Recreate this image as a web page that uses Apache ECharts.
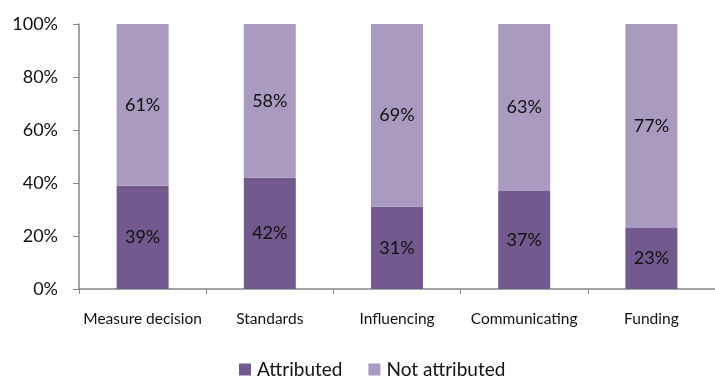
<!DOCTYPE html>
<html>
<head>
<meta charset="utf-8">
<script src="https://cdn.jsdelivr.net/npm/echarts@6/dist/echarts.min.js"></script>
<style>
  html, body { margin: 0; padding: 0; background: #ffffff; }
  #chart { width: 715px; height: 379px; }
</style>
</head>
<body>
<div id="chart"></div>
<script>
const categories = ['Measure decision', 'Standards', 'Influencing', 'Communicating', 'Funding'];
const attributed = [39, 42, 31, 37, 23];
const notAttributed = [61, 58, 69, 63, 77];
const yTicks = [0, 20, 40, 60, 80, 100];

const FONT = 'Lato, "Open Sans", sans-serif';
const axisGrey = '#868686';

const chart = echarts.init(document.getElementById('chart'));

const labelStyle = {
  show: true,
  position: 'inside',
  formatter: p => p.value + '%',
  color: '#111111',
  fontSize: 18,
  fontFamily: FONT
};

chart.setOption({
  animation: false,
  grid: { left: 79, top: 24, width: 644, height: 265 },
  legend: {
    left: 234,
    top: 355,
    itemWidth: 12,
    itemHeight: 12,
    itemGap: 26,
    icon: 'rect',
    textStyle: { fontSize: 19, fontFamily: FONT, color: '#111111', padding: [0, 0, 0, 1] },
    data: ['Attributed', 'Not attributed']
  },
  xAxis: {
    type: 'category',
    data: categories,
    axisLine: { lineStyle: { color: axisGrey, width: 1.5 } },
    axisTick: { show: true, length: 5, lineStyle: { color: axisGrey } },
    axisLabel: { interval: 0, fontSize: 15.5, fontFamily: FONT, color: '#111111', margin: 22 }
  },
  yAxis: {
    type: 'value',
    min: 0,
    max: 100,
    interval: 20,
    axisLine: { show: true, lineStyle: { color: axisGrey, width: 1.5 } },
    axisTick: { show: true, length: 6, lineStyle: { color: axisGrey } },
    splitLine: { show: false },
    axisLabel: {
      fontSize: 18,
      fontFamily: FONT,
      color: '#111111',
      margin: 21,
      formatter: v => yTicks.includes(v) ? v + '%' : ''
    }
  },
  series: [
    {
      name: 'Attributed',
      type: 'bar',
      stack: 'total',
      barWidth: 52,
      data: attributed,
      itemStyle: { color: '#725a8e' },
      label: labelStyle
    },
    {
      name: 'Not attributed',
      type: 'bar',
      stack: 'total',
      barWidth: 52,
      data: notAttributed,
      itemStyle: { color: '#a99bbf' },
      label: labelStyle
    }
  ]
});
</script>
</body>
</html>
